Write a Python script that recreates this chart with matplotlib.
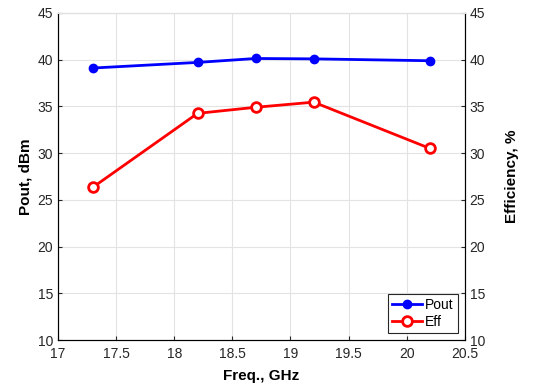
import matplotlib
matplotlib.use('Agg')
import matplotlib.pyplot as plt

freq = [17.3, 18.2, 18.7, 19.2, 20.2]
pout = [39.1, 39.7, 40.12, 40.08, 39.88]
eff = [26.35, 34.25, 34.9, 35.45, 30.5]

x_ticks = [17, 17.5, 18, 18.5, 19, 19.5, 20, 20.5]
y_ticks = [10, 15, 20, 25, 30, 35, 40, 45]

plt.rcParams['font.family'] = ['Liberation Sans', 'DejaVu Sans']

fig = plt.figure(figsize=(5.33, 3.9), dpi=100)
ax = fig.add_axes([0.109, 0.128, 0.763, 0.839])
ax2 = ax.twinx()

l1, = ax.plot(freq, pout, color='#0000ff', lw=2, marker='o', ms=6,
              mfc='#0000ff', mec='#0000ff', label='Pout')
l2, = ax2.plot(freq, eff, color='#ff0000', lw=2, marker='o', ms=7,
               mfc='white', mec='#ff0000', mew=2, label='Eff')

for a in (ax, ax2):
    a.set_xlim(17, 20.5)
    a.set_ylim(10, 45)
    a.set_yticks(y_ticks)
    a.tick_params(direction='in', labelsize=10, length=3, colors='#262626')

ax.set_xticks(x_ticks)
ax.set_xticklabels([f'{t:g}' for t in x_ticks])
ax.tick_params(axis='x', pad=5)
ax.grid(True, color='#e3e3e3', lw=0.8)
ax.set_axisbelow(True)
ax.tick_params(top=False)
for s in ax.spines.values():
    s.set_color('#262626')
ax2.spines['top'].set_color('#e0e0e0')
ax.spines['top'].set_color('#e0e0e0')

ax.set_xlabel('Freq., GHz', fontsize=11, fontweight='bold', labelpad=6)
ax.set_ylabel('Pout, dBm', fontsize=11, fontweight='bold')
ax2.set_ylabel('Efficiency, %', fontsize=11, fontweight='bold', labelpad=14)

leg = ax2.legend([l1, l2], ['Pout', 'Eff'], loc='lower right', fontsize=10,
                 fancybox=False, framealpha=1, edgecolor='#262626',
                 handlelength=2.2, borderpad=0.3, labelspacing=0.2,
                 handletextpad=0.2, borderaxespad=0.5)
leg.get_frame().set_linewidth(0.8)

fig.savefig('out.png', dpi=100)
